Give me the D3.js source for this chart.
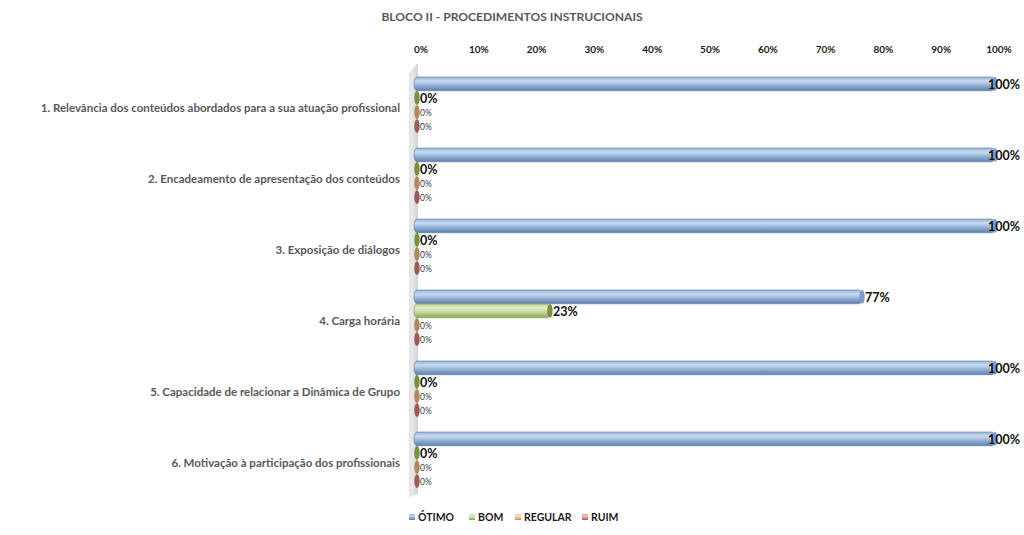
<!DOCTYPE html>
<html>
<head>
<meta charset="utf-8">
<script src="https://cdn.jsdelivr.net/npm/d3@7"></script>
<style>
  body { margin: 0; background: #fff; }
  text { font-family: Lato, "Open Sans", sans-serif; }
</style>
</head>
<body>
<svg id="chart" width="1024" height="535"></svg>
<script>
const categories = [
  '1. Relevância dos conteúdos abordados para a sua atuação profissional',
  '2. Encadeamento de apresentação dos conteúdos',
  '3. Exposição de diálogos',
  '4. Carga horária',
  '5. Capacidade de relacionar a Dinâmica de Grupo',
  '6. Motivação à participação dos profissionais'
];
const seriesNames = ['ÓTIMO', 'BOM', 'REGULAR', 'RUIM'];
const otimo = [100, 100, 100, 77, 100, 100];
const bom = [0, 0, 0, 23, 0, 0];
const regular = [0, 0, 0, 0, 0, 0];
const ruim = [0, 0, 0, 0, 0, 0];
const ticks = [0, 10, 20, 30, 40, 50, 60, 70, 80, 90, 100];

const series = [otimo, bom, regular, ruim];
// light, base, dark, cap
const palette = [
  ['#c9dbf1', '#95b3d7', '#5d7ea8', '#7f9dc6'],
  ['#e2edca', '#c3d69b', '#8aa159', '#76923c'],
  ['#fde0c6', '#fac090', '#c08a5a', '#b08860'],
  ['#efc8c7', '#d99694', '#a05e5c', '#9b5b5b']
];

const svg = d3.select('#chart');
const defs = svg.append('defs');

palette.forEach((c, i) => {
  const g = defs.append('linearGradient')
    .attr('id', `grad${i}`)
    .attr('x1', 0).attr('y1', 0).attr('x2', 0).attr('y2', 1);
  g.append('stop').attr('offset', '0%').attr('stop-color', c[1]);
  g.append('stop').attr('offset', '30%').attr('stop-color', c[0]);
  g.append('stop').attr('offset', '60%').attr('stop-color', c[1]);
  g.append('stop').attr('offset', '100%').attr('stop-color', c[2]);
});
const wallGrad = defs.append('linearGradient')
  .attr('id', 'wall').attr('x1', 0).attr('y1', 0).attr('x2', 1).attr('y2', 0);
wallGrad.append('stop').attr('offset', '0%').attr('stop-color', '#f4f4f4');
wallGrad.append('stop').attr('offset', '100%').attr('stop-color', '#d2d2d2');

const x = d3.scaleLinear().domain([0, 100]).range([417, 995]);
const y = d3.scaleBand().domain(categories).range([71, 497]);
const yInner = d3.scaleBand().domain(d3.range(4)).range([6, 62]).paddingInner(0.02);

// title
svg.append('text')
  .attr('x', 512).attr('y', 21)
  .attr('text-anchor', 'middle')
  .attr('font-size', 12.1).attr('font-weight', 'bold')
  .attr('fill', '#595959')
  .text('BLOCO II - PROCEDIMENTOS INSTRUCIONAIS');

// back wall
svg.append('path')
  .attr('d', `M409,72 L418,63 L418,494 L409,497 Z`)
  .attr('fill', 'url(#wall)');
svg.append('line')
  .attr('x1', 410).attr('x2', 410).attr('y1', 72).attr('y2', 497)
  .attr('stroke', '#d9d9d9');

// top axis tick labels
svg.append('g')
  .selectAll('text')
  .data(ticks)
  .join('text')
  .attr('x', d => x(d) + 4)
  .attr('y', 53)
  .attr('text-anchor', 'middle')
  .attr('font-size', 10).attr('font-weight', 'bold')
  .attr('fill', '#1a1a1a')
  .text(d => `${d}%`);

// category labels
svg.append('g')
  .selectAll('text')
  .data(categories)
  .join('text')
  .attr('x', 400)
  .attr('y', d => y(d) + y.bandwidth() / 2 + 5)
  .attr('text-anchor', 'end')
  .attr('font-size', 11.5).attr('font-weight', 'bold')
  .attr('fill', '#595959')
  .text(d => d);

// cylinders
const bars = [];
series.forEach((vals, si) => {
  vals.forEach((v, ci) => {
    bars.push({ si, ci, v, cat: categories[ci] });
  });
});

const bh = yInner.bandwidth();
const capW = 3;
const barG = svg.append('g');
bars.forEach(d => {
  const top = y(d.cat) + yInner(d.si);
  const x0 = x(0);
  const x1 = x(d.v);
  const g = barG.append('g');
  if (d.v > 0) {
    g.append('rect')
      .attr('x', x0 - capW).attr('y', top)
      .attr('width', x1 - x0 + capW).attr('height', bh)
      .attr('rx', capW).attr('ry', bh / 2)
      .attr('fill', `url(#grad${d.si})`)
      .attr('stroke', palette[d.si][2]).attr('stroke-width', 0.6);
  }
  g.append('ellipse')
    .attr('cx', x1).attr('cy', top + bh / 2)
    .attr('rx', capW - 0.3).attr('ry', bh / 2)
    .attr('fill', palette[d.si][3]);

  const big = d.si < 2;
  const tx = Math.min(x1 + 3, 988);
  g.append('text')
    .attr('x', tx)
    .attr('y', top + bh / 2 + (big ? 5.5 : 3.5))
    .attr('font-size', big ? 12.5 : 8.5)
    .attr('font-weight', big ? 'bold' : 'normal')
    .attr('fill', big ? '#111' : '#404040')
    .text(`${d.v}%`);
});

// legend
const legendX = [409, 469, 515, 582];
const legend = svg.append('g')
  .selectAll('g')
  .data(seriesNames)
  .join('g')
  .attr('transform', (d, i) => `translate(${legendX[i]}, 514)`);
legend.append('rect')
  .attr('width', 6).attr('height', 6)
  .attr('fill', (d, i) => `url(#grad${i})`);
legend.append('text')
  .attr('x', 9).attr('y', 7)
  .attr('font-size', 10.5).attr('font-weight', 'bold')
  .attr('fill', '#1a1a1a')
  .text(d => d);
</script>
</body>
</html>
